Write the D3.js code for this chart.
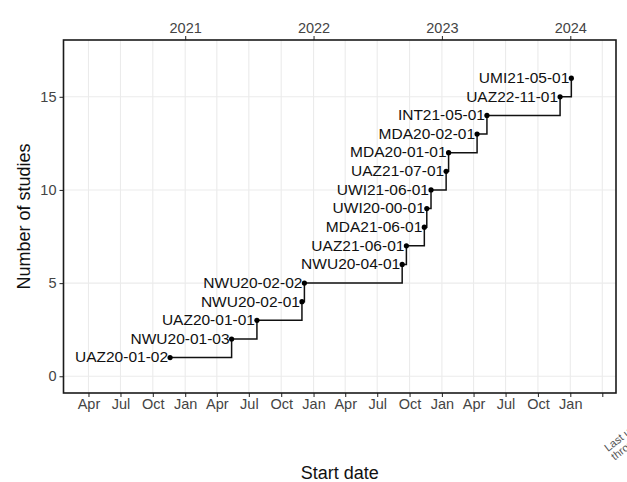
<!DOCTYPE html>
<html>
<head>
<meta charset="utf-8">
<script src="https://cdn.jsdelivr.net/npm/d3@7"></script>
<style>
  html, body { margin: 0; padding: 0; background: #fff; }
  svg { display: block; font-family: "Liberation Sans", Arial, sans-serif; }
</style>
</head>
<body>
<svg id="chart" width="627" height="482"></svg>
<script>
// Study identifiers, in order of start date
const studies = [
  "UAZ20-01-02", "NWU20-01-03", "UAZ20-01-01", "NWU20-02-01", "NWU20-02-02",
  "NWU20-04-01", "UAZ21-06-01", "MDA21-06-01", "UWI20-00-01", "UWI21-06-01",
  "UAZ21-07-01", "MDA20-01-01", "MDA20-02-01", "INT21-05-01", "UAZ22-11-01",
  "UMI21-05-01"
];
// Start date of each study
const startDates = [
  "2020-11-19", "2021-05-13", "2021-07-24", "2021-11-29", "2021-12-06",
  "2022-09-10", "2022-09-22", "2022-11-12", "2022-11-19", "2022-12-01",
  "2023-01-13", "2023-01-20", "2023-04-11", "2023-05-09", "2023-12-03",
  "2024-01-04"
];
// Cumulative number of studies
const counts = [1, 2, 3, 4, 5, 6, 7, 8, 9, 10, 11, 12, 13, 14, 15, 16];

const yTicks = [0, 5, 10, 15];
const yearTicks = ["2021-01-01", "2022-01-01", "2023-01-01", "2024-01-01"];
const yearLabels = ["2021", "2022", "2023", "2024"];
const quarterTicks = [
  "2020-04-01", "2020-07-01", "2020-10-01", "2021-01-01",
  "2021-04-01", "2021-07-01", "2021-10-01", "2022-01-01",
  "2022-04-01", "2022-07-01", "2022-10-01", "2023-01-01",
  "2023-04-01", "2023-07-01", "2023-10-01", "2024-01-01", "2024-04-01"
];
const quarterLabels = [
  "Apr", "Jul", "Oct", "Jan", "Apr", "Jul", "Oct", "Jan",
  "Apr", "Jul", "Oct", "Jan", "Apr", "Jul", "Oct", "Jan", ""
];
const xDomain = ["2020-01-21", "2024-05-10"];
const yDomain = [-0.9, 18.05];

const parse = d3.utcParse("%Y-%m-%d");
const data = studies.map((s, i) => ({ id: s, date: parse(startDates[i]), n: counts[i] }));

const panel = { left: 63.5, right: 616, top: 40, bottom: 393 };
const svg = d3.select("#chart");

const x = d3.scaleUtc().domain(xDomain.map(parse)).range([panel.left, panel.right]);
const y = d3.scaleLinear().domain(yDomain).range([panel.bottom, panel.top]);

const qDates = quarterTicks.map(parse);
const yDates = yearTicks.map(parse);

// Grid lines
const grid = svg.append("g");
grid.selectAll("line.v").data(qDates).join("line")
  .attr("x1", d => x(d)).attr("x2", d => x(d))
  .attr("y1", panel.top).attr("y2", panel.bottom)
  .attr("stroke", "#ebebeb").attr("stroke-width", 1.1);
grid.selectAll("line.h").data(yTicks).join("line")
  .attr("x1", panel.left).attr("x2", panel.right)
  .attr("y1", d => y(d)).attr("y2", d => y(d))
  .attr("stroke", "#ebebeb").attr("stroke-width", 1.1);

// Axes
const bottomAxis = d3.axisBottom(x).tickValues(qDates)
  .tickFormat((d) => quarterLabels[qDates.findIndex(q => +q === +d)])
  .tickSize(4).tickPadding(2);
const topAxis = d3.axisTop(x).tickValues(yDates)
  .tickFormat((d) => yearLabels[yDates.findIndex(q => +q === +d)])
  .tickSize(4).tickPadding(3);
const leftAxis = d3.axisLeft(y).tickValues(yTicks).tickSize(4).tickPadding(3);

function styleAxis(g) {
  g.select(".domain").remove();
  g.selectAll(".tick line").attr("stroke", "#333").attr("stroke-width", 1.1);
  g.selectAll(".tick text").attr("fill", "#444")
    .style("font-size", "14.5px").style("font-family", "'Liberation Sans', Arial, sans-serif");
}
svg.append("g").attr("transform", `translate(0,${panel.bottom})`).call(bottomAxis).call(styleAxis);
svg.append("g").attr("transform", `translate(0,${panel.top})`).call(topAxis).call(styleAxis);
svg.append("g").attr("transform", `translate(${panel.left},0)`).call(leftAxis).call(styleAxis);

// Panel border
svg.append("rect")
  .attr("x", panel.left).attr("y", panel.top)
  .attr("width", panel.right - panel.left).attr("height", panel.bottom - panel.top)
  .attr("fill", "none").attr("stroke", "#1a1a1a").attr("stroke-width", 1.6);

// Cumulative step line
const line = d3.line().x(d => x(d.date)).y(d => y(d.n)).curve(d3.curveStepAfter);
svg.append("path").datum(data)
  .attr("d", line).attr("fill", "none")
  .attr("stroke", "#111").attr("stroke-width", 1.5);

// Points
svg.append("g").selectAll("circle").data(data).join("circle")
  .attr("cx", d => x(d.date)).attr("cy", d => y(d.n)).attr("r", 2.6)
  .attr("fill", "#000");

// Study labels
svg.append("g").selectAll("text").data(data).join("text")
  .attr("x", d => x(d.date) - 2).attr("y", d => y(d.n) + 4.8)
  .attr("text-anchor", "end")
  .attr("fill", "#111")
  .style("font-size", "15.5px")
  .text(d => d.id);

// Axis titles
svg.append("text")
  .attr("x", (panel.left + panel.right) / 2).attr("y", 479)
  .attr("text-anchor", "middle").attr("fill", "#111")
  .style("font-size", "18px").text("Start date");
svg.append("text")
  .attr("transform", `translate(30,${(panel.top + panel.bottom) / 2}) rotate(-90)`)
  .attr("text-anchor", "middle").attr("fill", "#111")
  .style("font-size", "18px").text("Number of studies");

// Note at the lower right corner (runs past the page edge)
const note = svg.append("text")
  .attr("transform", "translate(608,452) rotate(-38)")
  .attr("fill", "#555").style("font-size", "11px");
note.append("tspan").attr("x", 0).attr("dy", 0).text("Last updated");
note.append("tspan").attr("x", 0).attr("dy", "1.0em").text("through Jan 2024");
</script>
</body>
</html>
